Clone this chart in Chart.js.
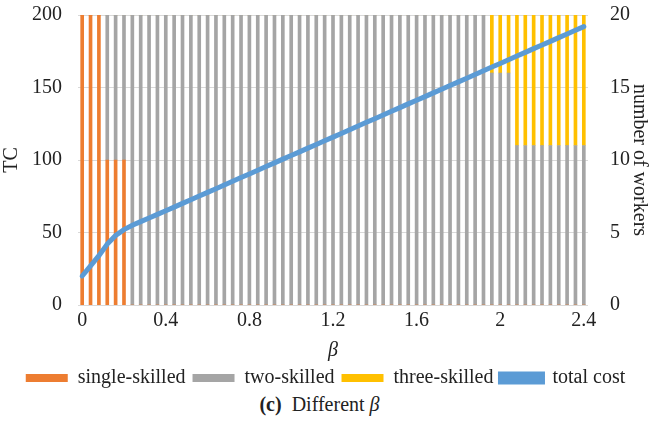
<!DOCTYPE html>
<html>
<head>
<meta charset="utf-8">
<script src="https://cdn.jsdelivr.net/npm/chart.js@4.4.0/dist/chart.umd.min.js"></script>
<style>
  body { margin: 0; background: #fff; }
  #wrap { position: relative; width: 651px; height: 398px; }
  #caption { width: 651px; text-align: center; font-family: "Liberation Serif", serif; font-size: 20px; color: #222; padding-right: 12px; margin-top: -5px; box-sizing: border-box; }
</style>
</head>
<body>
<div id="wrap"><canvas id="chart"></canvas></div>
<div id="caption"><b>(c)</b>&nbsp; Different <i>β</i></div>
<script>
// beta de 0 a 2.4, paso 0.04
const betas = ['0','0.04','0.08','0.12','0.16','0.2','0.24','0.28','0.32','0.36',
  '0.4','0.44','0.48','0.52','0.56','0.6','0.64','0.68','0.72','0.76',
  '0.8','0.84','0.88','0.92','0.96','1','1.04','1.08','1.12','1.16',
  '1.2','1.24','1.28','1.32','1.36','1.4','1.44','1.48','1.52','1.56',
  '1.6','1.64','1.68','1.72','1.76','1.8','1.84','1.88','1.92','1.96',
  '2','2.04','2.08','2.12','2.16','2.2','2.24','2.28','2.32','2.36','2.4'];

// numero de trabajadores por tipo
const singleSkilled = [20,20,20,10,10,10,0,0,0,0, 0,0,0,0,0,0,0,0,0,0,
  0,0,0,0,0,0,0,0,0,0, 0,0,0,0,0,0,0,0,0,0, 0,0,0,0,0,0,0,0,0,0,
  0,0,0,0,0,0,0,0,0,0,0];
const twoSkilled = [0,0,0,10,10,10,20,20,20,20, 20,20,20,20,20,20,20,20,20,20,
  20,20,20,20,20,20,20,20,20,20, 20,20,20,20,20,20,20,20,20,20,
  20,20,20,20,20,20,20,20,20,16, 16,16,11,11,11,11,11,11,11,11,11];
const threeSkilled = [0,0,0,0,0,0,0,0,0,0, 0,0,0,0,0,0,0,0,0,0,
  0,0,0,0,0,0,0,0,0,0, 0,0,0,0,0,0,0,0,0,0, 0,0,0,0,0,0,0,0,0,4,
  4,4,9,9,9,9,9,9,9,9,9];

// costo total (TC)
const totalCost = [20,27,34,42,48,52,55,57.5,60,62.5,
  65,67.5,70.1,72.6,75.2,77.7,80.2,82.8,85.3,87.9,
  90.4,92.9,95.5,98,100.6,103.1,105.6,108.2,110.7,113.3,
  115.8,118.3,120.9,123.4,126,128.5,131,133.6,136.1,138.7,
  141.2,143.7,146.3,148.8,151.4,153.9,156.4,159,161.5,164.1,
  166.6,169.1,171.7,174.2,176.8,179.3,181.8,184.4,186.9,189.5,192];

const xTickLabels = ['0','0.4','0.8','1.2','1.6','2','2.4'];

const FONT = "'Liberation Serif', 'Times New Roman', serif";
const TXT = '#222';
Chart.defaults.font.family = FONT;

new Chart(document.getElementById('chart'), {
  type: 'bar',
  data: {
    labels: betas,
    datasets: [
      { label: 'single-skilled', data: singleSkilled, backgroundColor: '#ED7D31', yAxisID: 'yW', order: 1, barThickness: 3 },
      { label: 'two-skilled', data: twoSkilled, backgroundColor: '#A5A5A5', yAxisID: 'yW', order: 1, barThickness: 3 },
      { label: 'three-skilled', data: threeSkilled, backgroundColor: '#FFC000', yAxisID: 'yW', order: 1, barThickness: 3 },
      { label: 'total cost', type: 'line', data: totalCost, borderColor: '#5B9BD5', backgroundColor: '#5B9BD5',
        borderWidth: 5, pointRadius: 0, tension: 0, yAxisID: 'yTC', order: 0, borderCapStyle: 'round' }
    ]
  },
  options: {
    responsive: true,
    maintainAspectRatio: false,
    animation: false,
    layout: { padding: 0 },
    plugins: {
      tooltip: { enabled: false },
      legend: {
        position: 'bottom',
        labels: {
          boxWidth: 42, boxHeight: 8, padding: 7,
          color: TXT, font: { family: FONT, size: 20 },
          sort: (a, b) => a.datasetIndex - b.datasetIndex
        }
      }
    },
    scales: {
      x: {
        stacked: true,
        offset: true,
        grid: { display: false, drawTicks: false },
        border: { display: false },
        ticks: {
          autoSkip: false, maxRotation: 0, color: TXT, padding: 6,
          font: { family: FONT, size: 20, lineHeight: 1 },
          callback: function(value, index) {
            const l = betas[index];
            return xTickLabels.includes(l) && index % 10 === 0 ? l : '';
          }
        },
        title: { display: true, text: 'β', color: TXT, padding: { top: 4, bottom: 0 },
          font: { family: FONT, size: 20, style: 'italic', lineHeight: 1 } }
      },
      yTC: {
        position: 'left',
        min: 0, max: 200,
        ticks: { stepSize: 50, color: TXT, padding: 16, font: { family: FONT, size: 20 } },
        grid: { color: '#D9D9D9', lineWidth: 1, drawTicks: false },
        border: { display: false },
        title: { display: true, text: 'TC', color: TXT, padding: 0, font: { family: FONT, size: 20 } },
        afterFit: (s) => { s.width = 78; s.paddingTop = 15; s.paddingBottom = 0; }
      },
      yW: {
        position: 'right',
        stacked: true,
        min: 0, max: 20,
        ticks: { stepSize: 5, color: TXT, padding: 14, font: { family: FONT, size: 20 } },
        grid: { display: false },
        border: { display: false },
        title: { display: true, text: 'number of workers', color: TXT, padding: 0, font: { family: FONT, size: 20 } },
        afterFit: (s) => { s.width = 63; s.paddingTop = 15; s.paddingBottom = 0; }
      }
    }
  }
});
</script>
</body>
</html>
